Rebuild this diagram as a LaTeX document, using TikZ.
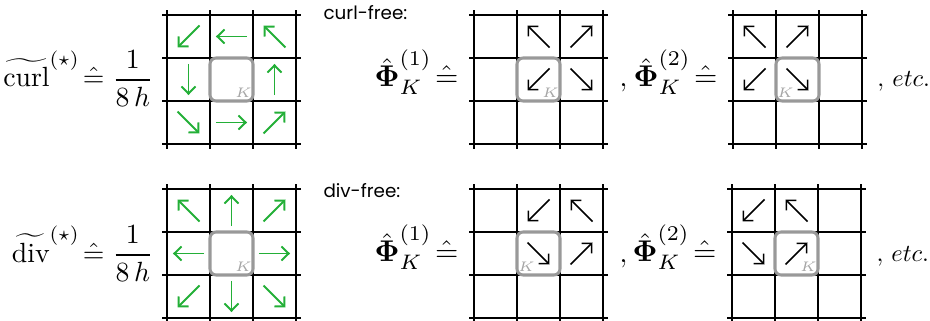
\documentclass[tikz,border=0pt]{standalone}
\usepackage{amsmath,amssymb,bm}
\usepackage{fontspec}
\newfontfamily\freefont{Poppins}
\usetikzlibrary{arrows.meta}
\definecolor{stencilgreen}{RGB}{35,175,55}
\tikzset{
    gridline/.style={line width=0.75pt, black},
    cellbox/.style={line width=1.1pt, draw=black!40, rounded corners=2.2pt},
    greenvec/.style={stencilgreen, line width=0.7pt, -{Straight Barb[length=2.6pt,width=5pt]}},
    blackvec/.style={black, line width=0.55pt, -{Straight Barb[length=2.6pt,width=5pt]}},
    kaplabel/.style={text=black!35, font=\fontsize{4}{5}\selectfont, inner sep=0pt},
    lhs/.style={anchor=base east, inner sep=0pt},
    philhs/.style={lhs, scale=1.08},
    rhs/.style={anchor=base west, inner sep=0pt},
    sidetext/.style={anchor=base west, inner sep=0pt, font=\freefont\fontsize{6.6}{8}\selectfont}
}
% 3x3 stencil: #1,#2 lower left corner, #3 side of the K label, #4 its name
\newcommand{\StencilGrid}[4]{%
    \foreach \k in {0,...,3} {
        \draw[gridline] (#1+43*\k,#2-5) -- (#1+43*\k,#2+134);
        \draw[gridline] (#1-5,#2+43*\k) -- (#1+134,#2+43*\k);
    }
    \draw[cellbox] (#1+43,#2+43) rectangle (#1+86,#2+86);
    \node[kaplabel] (#4) at (#1+64.5+#3*12,#2+51.5) {$K$};
}
% arrows in the cells: #1 style, #2,#3 corner, #4 list col/row/angle
\newcommand{\CellVec}[4]{%
    \foreach \c/\r/\a in {#4} {
        \draw[#1] (#2+43*\c+21.5,#3+107.5-43*\r) ++(\a+180:5.6pt) -- ++(\a:11.2pt);
    }
}

\begin{document}
\begin{tikzpicture}[x=0.36pt, y=0.36pt]
    \useasboundingbox (0,0) rectangle (930,320);

    % discrete operators
    \node[lhs] (curlop) at (154,233)
        {$\displaystyle\widetilde{\mathrm{curl}}^{(\star)}\!\mathrel{\hat{=}}\frac{1}{8\,h}$};
    \node[lhs] (divop) at (154,58)
        {$\displaystyle\widetilde{\mathrm{div}}^{(\star)}\!\mathrel{\hat{=}}\frac{1}{8\,h}$};

    \StencilGrid{167}{176}{1}{kcurl}
    \CellVec{greenvec}{167}{176}{0/0/225, 1/0/180, 2/0/135, 0/1/270, 2/1/90, 0/2/315, 1/2/0, 2/2/45}
    \StencilGrid{167}{2}{1}{kdiv}
    \CellVec{greenvec}{167}{2}{0/0/135, 1/0/90, 2/0/45, 0/1/180, 2/1/0, 0/2/225, 1/2/270, 2/2/315}

    % curl-free basis
    \node[sidetext] (curlfree) at (323,300) {curl-free:};
    \node[philhs] (phiA) at (459,233) {$\hat{\bm{\Phi}}_K^{(1)}\!\mathrel{\hat{=}}$};
    \StencilGrid{474}{176}{1}{kA}
    \CellVec{blackvec}{474}{176}{1/0/135, 2/0/45, 1/1/225, 2/1/315}
    \node[rhs] (commaA) at (619,233) {$,$};
    \node[philhs] (phiB) at (718,233) {$\hat{\bm{\Phi}}_K^{(2)}\!\mathrel{\hat{=}}$};
    \StencilGrid{733}{176}{-1}{kB}
    \CellVec{blackvec}{733}{176}{0/0/135, 1/0/45, 0/1/225, 1/1/315}
    \node[rhs, scale=0.88] (etcA) at (877,233) {$,\,etc.$};

    % div-free basis
    \node[sidetext] (divfree) at (323,122) {div-free:};
    \node[philhs] (phiC) at (459,58) {$\hat{\bm{\Phi}}_K^{(1)}\!\mathrel{\hat{=}}$};
    \StencilGrid{474}{2}{-1}{kC}
    \CellVec{blackvec}{474}{2}{1/0/225, 2/0/135, 1/1/315, 2/1/45}
    \node[rhs] (commaC) at (619,58) {$,$};
    \node[philhs] (phiD) at (717,58) {$\hat{\bm{\Phi}}_K^{(2)}\!\mathrel{\hat{=}}$};
    \StencilGrid{732}{2}{1}{kD}
    \CellVec{blackvec}{732}{2}{0/0/225, 1/0/135, 0/1/315, 1/1/45}
    \node[rhs, scale=0.88] (etcC) at (876,58) {$,\,etc.$};
\end{tikzpicture}
\end{document}
